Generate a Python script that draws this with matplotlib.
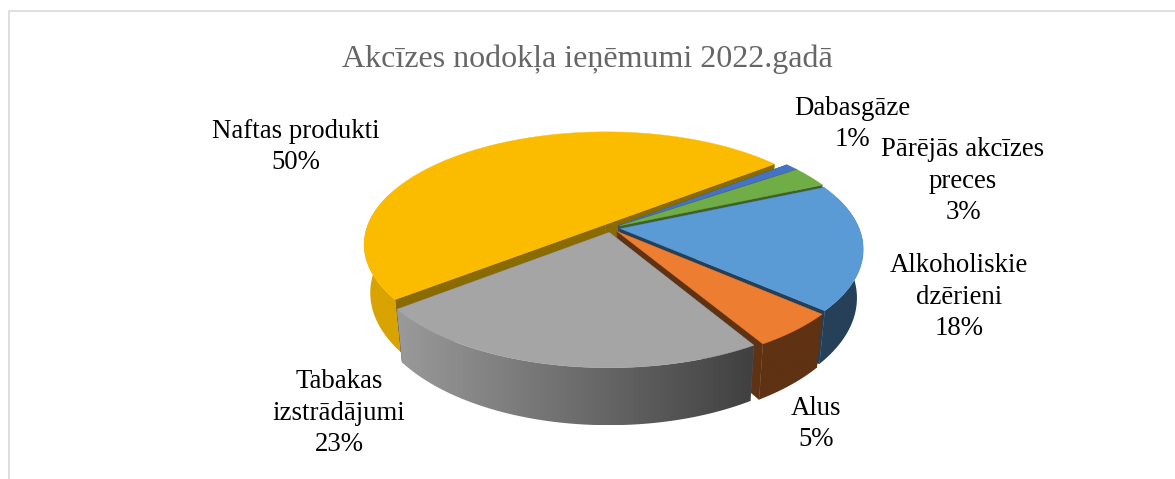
import numpy as np
import matplotlib
matplotlib.use("Agg")
import matplotlib.pyplot as plt
from matplotlib.colors import to_rgb
from matplotlib.patches import Polygon

# order is clockwise, starting from the yellow slice
categories = ["Naftas produkti", "Dabasgāze", "Pārējās akcīzes\npreces",
              "Alkoholiskie\ndzērieni", "Alus", "Tabakas\nizstrādājumi"]
shares = [50, 1, 3, 18, 5, 23]
title = "Akcīzes nodokļa ieņēmumi 2022.gadā"

top_colors = ["#FBBC00", "#4472C4", "#70AD47", "#5B9BD5", "#ED7D31", "#A5A5A5"]
cut_colors = ["#8A6B00", "#2A4578", "#3F6128", "#234058", "#5F3213", "#5A5A5A"]
rim_left = ["#D9A300", "#2A4578", "#3F6128", "#264059", "#5F3213", "#9A9A9A"]
rim_right = ["#D9A300", "#2A4578", "#3F6128", "#264059", "#5F3213", "#404040"]
label_spots = [(296, 147), (852, 124), (963, 181), (959, 297), (816, 424), (339, 413)]

START_ANGLE = 218.0  # where the first slice begins, degrees on the disc
EXPLODE = 0.04

# perspective of the disc, in pixels
CX, CY = 611, 228
A, B = 238.5, 110
K = 0.175
DEPTH = 47
SHRINK = 0.975


def project(u, v, down=False):
    """Turn disc coordinates into pixel coordinates."""
    w = 1 + K * np.asarray(v)
    x = A * np.asarray(u) / w
    y = B * np.asarray(v) / w
    if down:
        return CX + x * SHRINK, CY - y + DEPTH / w
    return CX + x, CY - y


def draw_slice(ax, a0, a1, i):
    mid = np.radians((a0 + a1) / 2)
    ou, ov = EXPLODE * np.cos(mid), EXPLODE * np.sin(mid)
    t = np.radians(np.linspace(a0, a1, 200))
    u = ou + np.cos(t)
    v = ov + np.sin(t)
    z = 10 + i * 3

    # straight cut faces, from the apex out to the rim
    for k in (0, -1):
        xs, ys = project([ou, u[k]], [ov, v[k]])
        xb, yb = project([ou, u[k]], [ov, v[k]], down=True)
        pts = np.column_stack([np.r_[xs, xb[::-1]], np.r_[ys, yb[::-1]]])
        ax.add_patch(Polygon(pts, fc=cut_colors[i], ec=cut_colors[i], lw=0.3, zorder=z))

    # outer wall, the near part only, filled with a left to right gradient
    # (a bit past the widest point, the top face covers what is too much)
    front = np.sin(t) < 0.3
    if front.any():
        xs, ys = project(u[front], v[front])
        xb, yb = project(u[front], v[front], down=True)
        pts = np.column_stack([np.r_[xs, xb[::-1]], np.r_[ys, yb[::-1]]])
        wall = Polygon(pts, fc="none", ec="none", transform=ax.transData)
        ax.add_patch(wall)
        c0, c1 = np.array(to_rgb(rim_left[i])), np.array(to_rgb(rim_right[i]))
        ramp = c0 + (c1 - c0) * np.linspace(0, 1, 256)[:, None]
        ax.imshow(ramp[None, :, :], extent=(pts[:, 0].min(), pts[:, 0].max(), pts[:, 1].max(), pts[:, 1].min()),
                  aspect="auto", interpolation="bilinear", clip_path=wall, zorder=z + 1)

    # top face
    xs, ys = project(u, v)
    ax_, ay_ = project(ou, ov)
    pts = np.column_stack([np.r_[ax_, xs], np.r_[ay_, ys]])
    ax.add_patch(Polygon(pts, fc=top_colors[i], ec=top_colors[i], lw=0.3, zorder=z + 2))


plt.rcParams["font.family"] = ["Liberation Serif", "DejaVu Serif"]

fig = plt.figure(figsize=(11.75, 4.79), dpi=100)
ax = fig.add_axes([0, 0, 1, 1])
ax.axis("off")

# chart frame, its right and bottom sides fall outside the picture
ax.plot([8.5, 8.5, 1175], [479, 10.5, 10.5], color="#D9D9D9", lw=1.2)

spans = np.array(shares) / sum(shares) * 360
ends = START_ANGLE - np.cumsum(spans)
starts = ends + spans
for i in range(len(shares)):
    draw_slice(ax, ends[i], starts[i], i)

ax.set_xlim(0, 1175)
ax.set_ylim(479, 0)

ax.text(587, 59, title, ha="center", va="center", fontsize=23, color="#666666")
for name, share, spot in zip(categories, shares, label_spots):
    ax.text(spot[0], spot[1], f"{name}\n{share}%", ha="center", va="center",
            multialignment="center", fontsize=19.3, color="black", linespacing=1.32, zorder=40)

fig.savefig("out.png", dpi=100)
